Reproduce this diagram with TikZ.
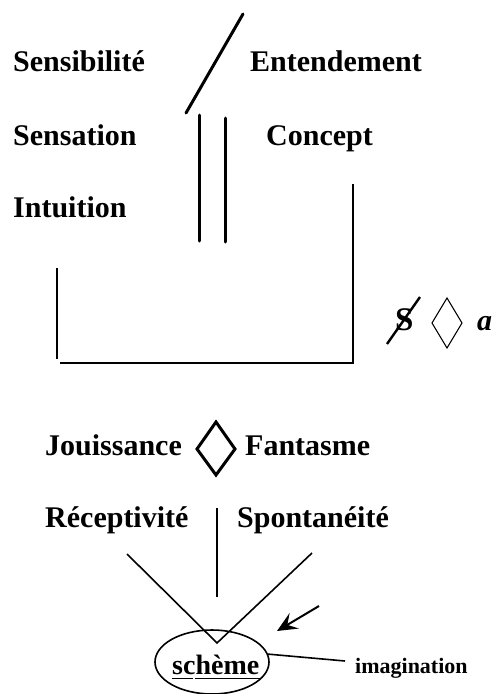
\documentclass[tikz,border=0pt]{standalone}
\usepackage{fontspec}
\setmainfont{Liberation Serif}
\usetikzlibrary{arrows.meta,shapes.geometric}
\tikzset{
  big/.style={anchor=base west,inner sep=0pt,font=\fontsize{30}{36}\selectfont\bfseries},
  small/.style={anchor=base west,inner sep=0pt,font=\fontsize{22}{26}\selectfont\bfseries},
  thick line/.style={line width=3pt,line cap=round},
  thin line/.style={line width=1.6pt},
}
\begin{document}
\begin{tikzpicture}[x=1pt,y=-1pt]
\useasboundingbox (0,0) rectangle (496,694);
% labels
\node[big] (sensib) at (13,71) {Sensibilit\'e};
\node[big] (entend) at (250,71) {Entendement};
\node[big] (sensat) at (13,145) {Sensation};
\node[big] (concept) at (266,145) {Concept};
\node[big] (intuit) at (13,217) {Intuition};
% slash and double bar
\draw[thick line] (186,113) -- (243,14);
\draw[thick line] (199,115) -- (199,241);
\draw[thick line] (225,118) -- (225,242);
% open box
\draw[thin line] (57,268) -- (57,359);
\draw[thin line] (60,363) -- (353,363) -- (353,184);
% barred S losange a
\node[big,font=\fontsize{33}{38}\selectfont\bfseries] (S) at (395,330) {S};
\draw[line width=2.4pt] (387,344) -- (420,297);
\draw[line width=1.1pt] (447,298) -- (462,323) -- (447,348) -- (432,323) -- cycle;
\node[big,font=\fontsize{30}{36}\selectfont\bfseries\itshape] (a) at (477,330) {a};
% Jouissance / Fantasme
\node[big] (jouis) at (45,455) {Jouissance};
\node[big] (fant) at (245,455) {Fantasme};
\draw[line width=3pt,line join=miter] (216,422) -- (235,449) -- (216,475) -- (197,449) -- cycle;
% Receptivite / Spontaneite
\node[big] (recep) at (45,527) {R\'eceptivit\'e};
\node[big] (spont) at (237,527) {Spontan\'eit\'e};
\draw[thin line] (217,508) -- (217,597);
\coordinate (vb) at (217,643);
\draw[thin line] (127,554) -- (vb) -- (312,553);
% arrow
\draw[line width=2pt,-{Stealth[length=20pt,width=18pt,inset=8pt]}] (319,606) -- (277,631);
% scheme
\node[draw,ellipse,line width=1.6pt,minimum width=114pt,minimum height=64pt,inner sep=0pt] (ell) at (212,662) {};
\node[big,font=\fontsize{28}{34}\selectfont\bfseries] (sch) at (172,674) {sch\`eme};
\draw[line width=1.8pt] (172,678.5) -- (193,678.5);
\draw[line width=1.8pt] (195,678.5) -- (260,678.5);
\node[small] (imag) at (355,673) {imagination};
\draw[thin line] (ell.8) -- (345,661);
\end{tikzpicture}
\end{document}
